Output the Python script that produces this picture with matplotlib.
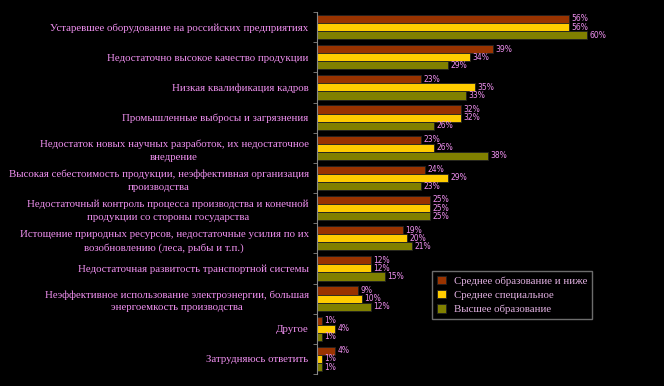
import matplotlib
matplotlib.use('Agg')
import matplotlib.pyplot as plt
import numpy as np

# причины / categories, top to bottom
categories = [
    "Устаревшее оборудование на российских предприятиях",
    "Недостаточно высокое качество продукции",
    "Низкая квалификация кадров",
    "Промышленные выбросы и загрязнения",
    "Недостаток новых научных разработок, их недостаточное\nвнедрение",
    "Высокая себестоимость продукции, неэффективная организация\nпроизводства",
    "Недостаточный контроль процесса производства и конечной\nпродукции со стороны государства",
    "Истощение природных ресурсов, недостаточные усилия по их\nвозобновлению (леса, рыбы и т.п.)",
    "Недостаточная развитость транспортной системы",
    "Неэффективное использование электроэнергии, большая\nэнергоемкость производства",
    "Другое",
    "Затрудняюсь ответить",
]
series_names = ["Среднее образование и ниже", "Среднее специальное", "Высшее образование"]
srednee = [56, 39, 23, 32, 23, 24, 25, 19, 12, 9, 1, 4]
spec = [56, 34, 35, 32, 26, 29, 25, 20, 12, 10, 4, 1]
vysshee = [60, 29, 33, 26, 38, 23, 25, 21, 15, 12, 1, 1]

colors = ["#993300", "#ffcc00", "#808000"]
txt_col = "#f090f0"

fig = plt.figure(figsize=(6.64, 3.86), dpi=100, facecolor="black")
ax = fig.add_axes([317/664, 1-374/386, 333/664, 362/386])
ax.set_facecolor("black")

y = np.arange(len(categories))
h = 0.27
for k, vals in enumerate([srednee, spec, vysshee]):
    pos = y + (k - 1) * h
    bars = ax.barh(pos, vals, height=h, color=colors[k], edgecolor="#222222",
                   linewidth=0.6, label=series_names[k])
    for b, v in zip(bars, vals):
        ax.text(b.get_width() + 0.6, b.get_y() + h/2, f"{v}%", va="center", ha="left",
                fontsize=5.5, color=txt_col, family="DejaVu Sans")

ax.set_xlim(0, 74)
ax.set_ylim(len(categories) - 0.5, -0.5)
ax.set_yticks(y)
ax.set_yticklabels(categories, fontsize=7.8, color=txt_col, family="Liberation Serif",
                   linespacing=1.5)
for t in ax.get_yticklabels():
    t.set_multialignment("center")
ax.tick_params(axis="y", length=0, pad=6)
ax.set_yticks(np.arange(len(categories) + 1) - 0.5, minor=True)
ax.tick_params(axis="y", which="minor", length=3, color="#888888")
ax.set_xticks([])
for s in ["top", "right", "bottom"]:
    ax.spines[s].set_visible(False)
ax.spines["left"].set_color("#888888")

leg = fig.legend(loc="upper left", bbox_to_anchor=(432/664, 1-271/386), frameon=True,
                 prop={"family": "Liberation Serif", "size": 7.8}, handlelength=0.8,
                 handleheight=0.8, labelspacing=0.4, borderpad=0.45, fancybox=False,
                 borderaxespad=0)
leg.get_frame().set_facecolor("black")
leg.get_frame().set_edgecolor("#888888")
for t in leg.get_texts():
    t.set_color("#e0b0e0")

plt.savefig("out.png", dpi=100, facecolor="black")
